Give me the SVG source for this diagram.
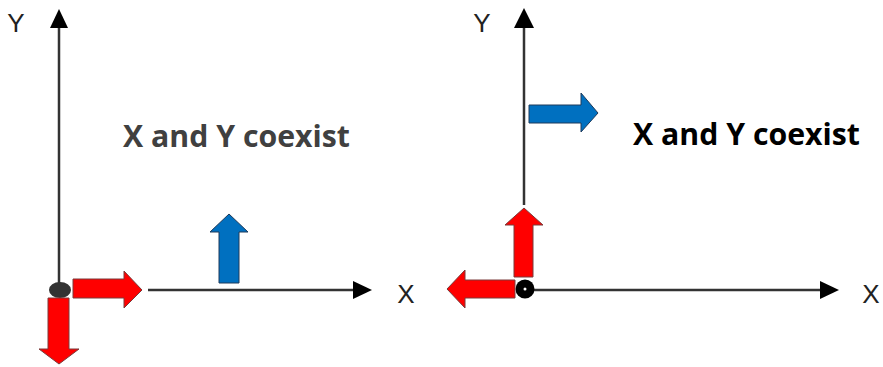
<svg xmlns="http://www.w3.org/2000/svg" width="883" height="367" viewBox="0 0 883 367">
<defs>
<style>
.axis{stroke:#333;stroke-width:2.5;fill:none}
.head{fill:#000}
.red{fill:#ff0000;stroke:#7a3a3a;stroke-width:1}
.blue{fill:#0070c0;stroke:#1f3a5a;stroke-width:1}
.lbl{font-family:"Liberation Sans",Arial,sans-serif;font-size:26px;fill:#222}
.title{font-family:"Open Sans","Liberation Sans",sans-serif;font-weight:bold;font-size:31px}
</style>
</defs>
<rect width="883" height="367" fill="#fff"/>
<g id="connectors">
<line class="axis" x1="59" y1="26" x2="59" y2="283"/>
<polygon class="head" points="59,9 50,28 68,28"/>
<line class="axis" x1="148" y1="290" x2="356" y2="290"/>
<polygon class="head" points="372,290 353,281 353,299"/>
<line class="axis" x1="524" y1="26" x2="524" y2="205"/>
<polygon class="head" points="524,8 514,28 534,28"/>
<line class="axis" x1="530" y1="290" x2="822" y2="290"/>
<polygon class="head" points="839,290 820,281 820,299"/>
</g>
<g id="left-origin">
<ellipse cx="60" cy="290" rx="11" ry="8" fill="#333"/>
</g>
<g id="left-red-right">
<polygon class="red" points="73,279 124,279 124,271 142,290 124,308 124,298 73,298"/>
</g>
<g id="left-red-down">
<polygon class="red" points="48,298 69,298 69,349 79,349 59,364 39,349 48,349"/>
</g>
<g id="left-blue-up">
<polygon class="blue" points="219,283 239,283 239,232 248,232 229,214 210,232 219,232"/>
</g>
<g id="left-labels">
<text class="lbl" x="16" y="32" text-anchor="middle">Y</text>
<text class="lbl" x="406" y="303" text-anchor="middle">X</text>
<text class="title" x="123" y="147" fill="#404040" textLength="227" lengthAdjust="spacingAndGlyphs">X and Y coexist</text>
</g>
<g id="right-origin">
<circle cx="525" cy="289" r="9.5" fill="#000"/>
<circle cx="525" cy="289" r="1.5" fill="#fff"/>
</g>
<g id="right-red-up">
<polygon class="red" points="514,277 533,277 533,225 543,225 524,208 505,225 514,225"/>
</g>
<g id="right-red-left">
<polygon class="red" points="515,280 515,298 465,298 465,308 447,289 465,270 465,280"/>
</g>
<g id="right-blue-right">
<polygon class="blue" points="529,105 581,105 581,93 598,113 581,132 581,123 529,123"/>
</g>
<g id="right-labels">
<text class="lbl" x="482" y="32" text-anchor="middle">Y</text>
<text class="lbl" x="871" y="303" text-anchor="middle">X</text>
<text class="title" x="633" y="145" fill="#000" textLength="227" lengthAdjust="spacingAndGlyphs">X and Y coexist</text>
</g>
</svg>
